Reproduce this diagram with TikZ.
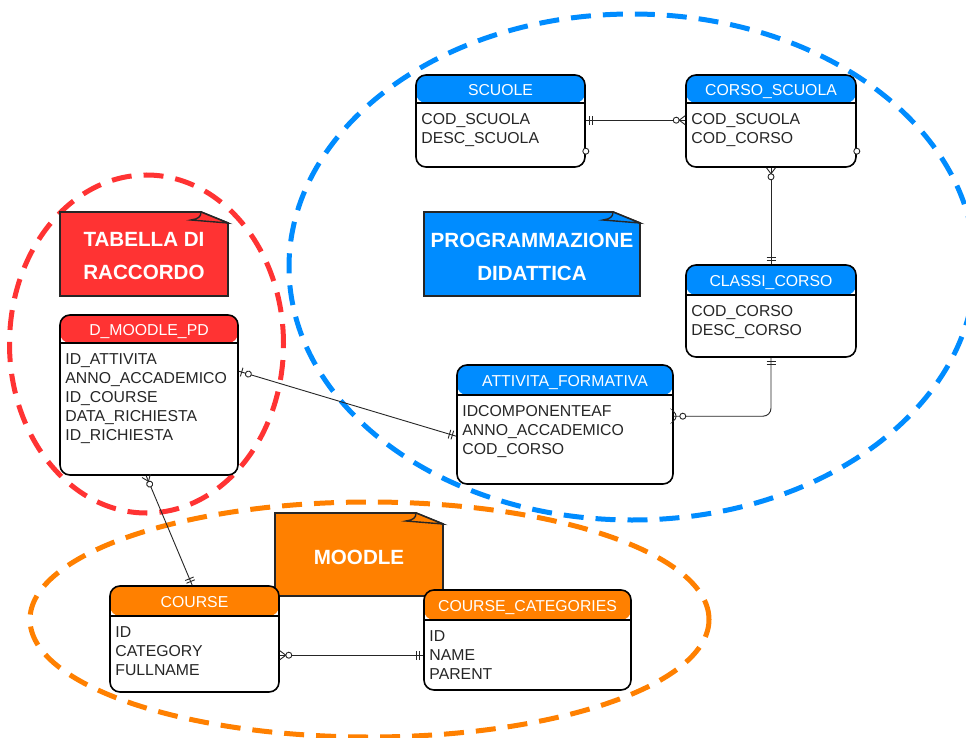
\documentclass[tikz,border=0pt]{standalone}
\usepackage{fontspec}
\setmainfont{Liberation Sans}
\usetikzlibrary{fit,calc,decorations.markings}

\definecolor{erblue}{RGB}{0,140,255}
\definecolor{erred}{RGB}{255,51,51}
\definecolor{erorange}{RGB}{255,128,0}
\definecolor{ink}{RGB}{38,38,38}

\tikzset{
  x=1pt, y=-1pt,
  zone/.style={line width=5pt, dash pattern=on 20pt off 12pt},
  entity/.style 2 args={draw=black, line width=1.6pt, rounded corners=10pt,
    inner sep=0pt, fill=white,
    path picture={
      \fill[#1] (path picture bounding box.north west) rectangle
        ([yshift=-#2pt]path picture bounding box.north east);
      \draw[line width=1.3pt] ([yshift=-#2pt]path picture bounding box.north west) --
        ([yshift=-#2pt]path picture bounding box.north east);}},
  entitytitle/.style={text=white, font=\fontsize{15.8}{19}\selectfont,
    inner sep=0pt, text height=10.9pt, text depth=0pt},
  entityattrs/.style={text=ink, font=\fontsize{15.8}{19}\selectfont,
    align=left, inner sep=0pt, anchor=north west},
  notebg/.style={fill=#1, draw=ink, line width=1.8pt, line join=miter},
  notetext/.style={text=white, font=\fontsize{20.6}{33}\selectfont\bfseries,
    align=center, inner sep=0pt},
  link/.style={draw=ink, line width=0.9pt},
  ermark/.style={draw=ink, line width=0.9pt},
  % mandatory one (two bars)
  onestart/.style={postaction={decorate, decoration={markings,
      mark=at position 4pt with {\draw[ermark] (0pt,-4.5pt) -- (0pt,4.5pt);},
      mark=at position 7pt with {\draw[ermark] (0pt,-4.5pt) -- (0pt,4.5pt);}}}},
  oneend/.style={postaction={decorate, decoration={markings,
      mark=at position -7pt with {\draw[ermark] (0pt,-4.5pt) -- (0pt,4.5pt);},
      mark=at position -4pt with {\draw[ermark] (0pt,-4.5pt) -- (0pt,4.5pt);}}}},
  % zero or many (crow's foot and ring)
  manystart/.style={postaction={decorate, decoration={markings,
      mark=at position 0.01pt with {\draw[ermark] (0pt,-4.5pt) -- (6pt,0pt) -- (0pt,4.5pt);},
      mark=at position 9pt with {\draw[ermark, fill=white] (0pt,0pt) circle (3pt);}}}},
  manyend/.style={postaction={decorate, decoration={markings,
      mark=at position -9pt with {\draw[ermark, fill=white] (0pt,0pt) circle (3pt);},
      mark=at position -0.01pt with {\draw[ermark] (0pt,-4.5pt) -- (-6pt,0pt) -- (0pt,4.5pt);}}}},
  % zero or one (bar and ring)
  zeroonestart/.style={postaction={decorate, decoration={markings,
      mark=at position 3pt with {\draw[ermark] (0pt,-4.5pt) -- (0pt,4.5pt);},
      mark=at position 10pt with {\draw[ermark, fill=white] (0pt,0pt) circle (3pt);}}}},
  stub/.style={ermark, fill=white}
}

% #1 name, #2 colour, #3 left, #4 top, #5 right, #6 bottom, #7 header height, #8 title, #9 attributes
\newcommand\erentity[9]{%
  \node[entity={#2}{#7}, fit={(#3,#4) (#5,#6)}] (#1) {};
  \node[entitytitle] (#1-title) at ($(#1.north)+(0,#7/2+1.5)$) {#8};
  \node[entityattrs] (#1-attrs) at ($(#1.north west)+(6,#7+11.2)$) {#9};
}

% #1 name, #2 colour, #3 left, #4 top, #5 right, #6 bottom, #7 text
\newcommand\ernote[7]{%
  \filldraw[notebg=#2] (#3,#4) -- ({#5-27},#4) -- (#5,{#4+11}) -- (#5,#6) -- (#3,#6) -- cycle;
  \filldraw[notebg=#2, line width=1.4pt] ({#5-27},#4)
    .. controls ({#5-27},{#4+5}) and ({#5-30},{#4+7}) .. ({#5-37},{#4+8})
    -- (#5,{#4+11}) -- cycle;
  \node[notetext] (#1) at ({(#3+#5)/2},{(#4+#6)/2+2.5}) {#7};
}

\begin{document}
\begin{tikzpicture}
  \clip (0,0) rectangle (966,738);
  \fill[white] (0,0) rectangle (966,738);

  % grouping zones
  \draw[zone, draw=erred]    (146.5,344) ellipse [x radius=137pt, y radius=169pt];
  \draw[zone, draw=erblue]   (632,267)   ellipse [x radius=343pt, y radius=253pt];
  \draw[zone, draw=erorange] (369.5,619.5) ellipse [x radius=339.5pt, y radius=117.5pt];

  % notes
  \ernote{noteraccordo}{erred}{60}{212}{228}{296}{TABELLA DI\\RACCORDO}
  \ernote{notedidattica}{erblue}{424}{212}{640}{296}{PROGRAMMAZIONE\\DIDATTICA}
  \ernote{notemoodle}{erorange}{275}{513}{443}{596}{MOODLE}

  % tables
  \erentity{scuole}{erblue}{416}{75}{585}{167}{28}{SCUOLE}{COD\_SCUOLA\\DESC\_SCUOLA}
  \erentity{corso}{erblue}{686}{75}{856}{167}{28}{CORSO\_SCUOLA}{COD\_SCUOLA\\COD\_CORSO}
  \erentity{classi}{erblue}{686}{265}{856}{357}{30}{CLASSI\_CORSO}{COD\_CORSO\\DESC\_CORSO}
  \erentity{attivita}{erblue}{457}{365}{673}{484}{30}{ATTIVITA\_FORMATIVA}{IDCOMPONENTEAF\\ANNO\_ACCADEMICO\\COD\_CORSO}
  \erentity{dmoodle}{erred}{60}{315}{238}{475}{28}{D\_MOODLE\_PD}{ID\_ATTIVITA\\ANNO\_ACCADEMICO\\ID\_COURSE\\DATA\_RICHIESTA\\ID\_RICHIESTA}
  \erentity{course}{erorange}{110}{586}{279}{692}{30}{COURSE}{ID\\CATEGORY\\FULLNAME}
  \erentity{cats}{erorange}{424}{590}{631}{690}{30}{COURSE\_CATEGORIES}{ID\\NAME\\PARENT}

  % relationships
  \draw[link, onestart, manyend] ([yshift=-46pt]scuole.north east) -- ([yshift=-46pt]corso.north west);
  \draw[link, manystart, oneend] (corso.south) -- (classi.north);
  \draw[link, rounded corners=8pt, onestart, manyend] (classi.south) |- ([yshift=-52pt]attivita.north east);
  \draw[link, zeroonestart, oneend] ([yshift=-57pt]dmoodle.north east) -- ([yshift=-72pt]attivita.north west);
  \draw[link, manystart, oneend] ([xshift=87pt]dmoodle.south west) -- ([xshift=83pt]course.north west);
  \draw[link, manystart, oneend] ([yshift=-70pt]course.north east) -- ([yshift=-66pt]cats.north west);

  % loose ports on the right edges
  \draw[stub] ([yshift=-77pt]scuole.north east) circle (3pt);
  \draw[stub] ([yshift=-77pt]corso.north east) circle (3pt);
\end{tikzpicture}
\end{document}
